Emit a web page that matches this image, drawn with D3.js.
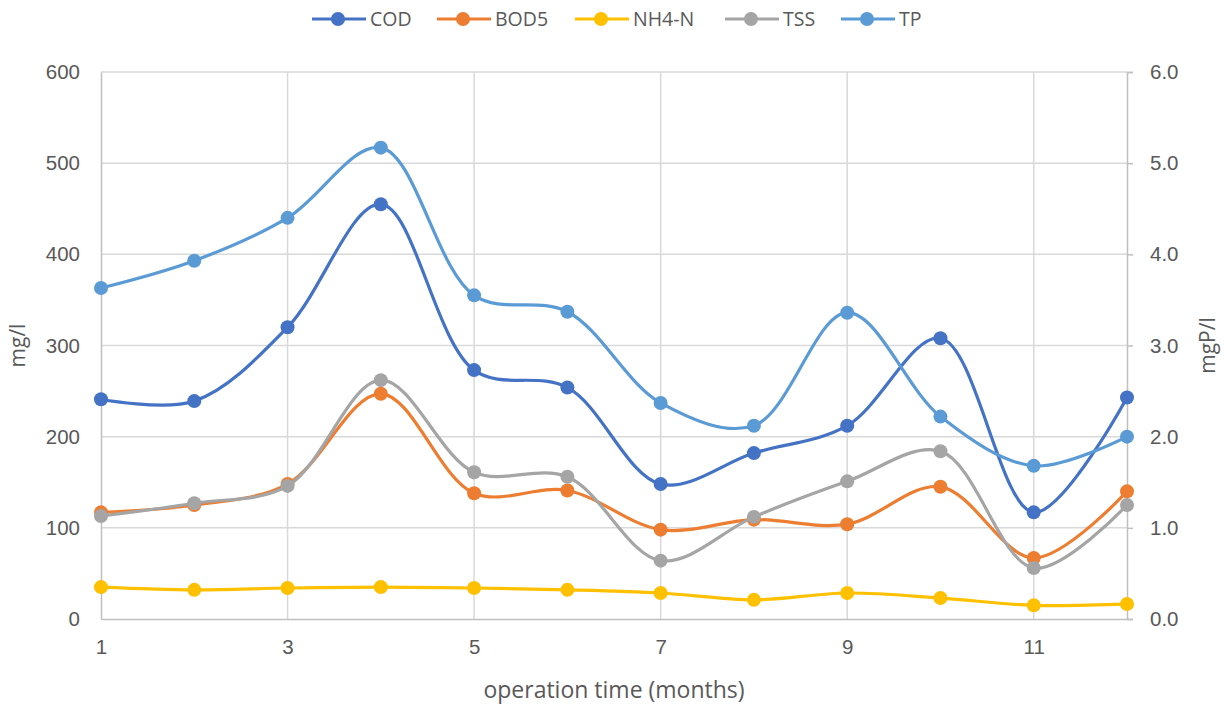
<!DOCTYPE html>
<html>
<head>
<meta charset="utf-8">
<script src="https://cdn.jsdelivr.net/npm/d3@7"></script>
<style>
  html, body { margin: 0; padding: 0; background: #fff; }
  svg { display: block; font-family: "Open Sans", "Noto Sans", "DejaVu Sans", sans-serif; }
</style>
</head>
<body>
<svg id="chart" width="1226" height="704"></svg>
<script>
// Monthly effluent quality over the operation period
const months = [1, 2, 3, 4, 5, 6, 7, 8, 9, 10, 11, 12];
const xTickValues = [1, 3, 5, 7, 9, 11];
const leftTicks = [0, 100, 200, 300, 400, 500, 600];
const rightTicks = [0, 1, 2, 3, 4, 5, 6];

const cod  = [241, 239, 320, 455, 273, 254, 148, 182, 212, 308, 117, 243];
const bod5 = [117, 125, 148, 247, 138, 141, 98, 109, 104, 145, 67, 140];
const nh4n = [35, 32, 34, 35, 34, 32, 28.5, 21, 28.5, 23, 15, 16.5];
const tss  = [113, 127, 146, 262, 161, 156, 64, 112, 151, 184, 56, 125];
const tp   = [3.63, 3.93, 4.40, 5.17, 3.55, 3.37, 2.37, 2.12, 3.36, 2.22, 1.68, 2.00];

const seriesNames = ["COD", "BOD5", "NH4-N", "TSS", "TP"];
const seriesColors = ["#4472C4", "#ED7D31", "#FFC000", "#A5A5A5", "#5B9BD5"];
const seriesValues = [cod, bod5, nh4n, tss, tp];
const seriesAxis = ["left", "left", "left", "left", "right"];

const svg = d3.select("#chart");
const plot = { left: 101, right: 1127, top: 72, bottom: 619 };
const textColor = "#595959";

const x = d3.scaleLinear().domain([1, 12]).range([plot.left, plot.right]);
const yL = d3.scaleLinear().domain([0, 600]).range([plot.bottom, plot.top]);
const yR = d3.scaleLinear().domain([0, 6]).range([plot.bottom, plot.top]);

// Horizontal gridlines
svg.append("g")
  .selectAll("line")
  .data(leftTicks.filter(d => d > 0))
  .join("line")
  .attr("x1", plot.left).attr("x2", plot.right)
  .attr("y1", d => yL(d)).attr("y2", d => yL(d))
  .attr("stroke", "#d9d9d9").attr("stroke-width", 1.5);

// Vertical gridlines
svg.append("g")
  .selectAll("line")
  .data(xTickValues.filter(d => d > 1))
  .join("line")
  .attr("x1", d => x(d)).attr("x2", d => x(d))
  .attr("y1", plot.top).attr("y2", plot.bottom)
  .attr("stroke", "#d9d9d9").attr("stroke-width", 1.5);

// Left axis
const leftAxis = svg.append("g")
  .attr("transform", `translate(${plot.left},0)`)
  .call(d3.axisLeft(yL).tickValues(leftTicks).tickSize(0).tickPadding(21));
leftAxis.select(".domain").attr("stroke", "#bfbfbf").attr("stroke-width", 1.5);

// Right axis
const rightAxis = svg.append("g")
  .attr("transform", `translate(${plot.right},0)`)
  .call(d3.axisRight(yR).tickValues(rightTicks).tickSize(6).tickPadding(17)
    .tickFormat(d3.format(".1f")));
rightAxis.select(".domain").attr("stroke", "#bfbfbf").attr("stroke-width", 1.5);
rightAxis.selectAll(".tick line").attr("stroke", "#bfbfbf").attr("stroke-width", 1.5);

// Bottom axis
const bottomAxis = svg.append("g")
  .attr("transform", `translate(0,${plot.bottom})`)
  .call(d3.axisBottom(x).tickValues(xTickValues).tickSize(0).tickPadding(20)
    .tickFormat(d3.format("d")));
bottomAxis.select(".domain").attr("stroke", "#bfbfbf").attr("stroke-width", 1.5);

svg.selectAll(".tick text")
  .attr("fill", textColor)
  .style("font-size", "20.5px");

// Axis titles
svg.append("text")
  .attr("transform", `translate(25,${(plot.top + plot.bottom) / 2}) rotate(-90)`)
  .attr("text-anchor", "middle")
  .attr("fill", textColor)
  .style("font-size", "21px")
  .text("mg/l");

svg.append("text")
  .attr("transform", `translate(1215,${(plot.top + plot.bottom) / 2}) rotate(-90)`)
  .attr("text-anchor", "middle")
  .attr("fill", textColor)
  .style("font-size", "21px")
  .text("mgP/l");

svg.append("text")
  .attr("x", (plot.left + plot.right) / 2)
  .attr("y", 698)
  .attr("text-anchor", "middle")
  .attr("fill", textColor)
  .style("font-size", "23px")
  .text("operation time (months)");

// Series lines and markers
seriesValues.forEach((vals, i) => {
  const y = seriesAxis[i] === "left" ? yL : yR;
  const line = d3.line()
    .x((d, j) => x(months[j]))
    .y(d => y(d))
    .curve(d3.curveCatmullRom.alpha(0.5));
  const g = svg.append("g");
  g.append("path")
    .datum(vals)
    .attr("d", line)
    .attr("fill", "none")
    .attr("stroke", seriesColors[i])
    .attr("stroke-width", 3.2)
    .attr("stroke-linejoin", "round");
  g.selectAll("circle")
    .data(vals)
    .join("circle")
    .attr("cx", (d, j) => x(months[j]))
    .attr("cy", d => y(d))
    .attr("r", 7)
    .attr("fill", seriesColors[i]);
});

// Legend
const legendX = [312, 437, 575, 725, 841];
const legend = svg.append("g");
seriesNames.forEach((name, i) => {
  const lx = legendX[i];
  const ly = 19;
  legend.append("line")
    .attr("x1", lx).attr("x2", lx + 54)
    .attr("y1", ly).attr("y2", ly)
    .attr("stroke", seriesColors[i]).attr("stroke-width", 3.2);
  legend.append("circle")
    .attr("cx", lx + 26).attr("cy", ly).attr("r", 7)
    .attr("fill", seriesColors[i]);
  legend.append("text")
    .attr("x", lx + 58).attr("y", ly)
    .attr("dy", "0.36em")
    .attr("fill", textColor)
    .style("font-size", "19.5px")
    .text(name);
});
</script>
</body>
</html>
